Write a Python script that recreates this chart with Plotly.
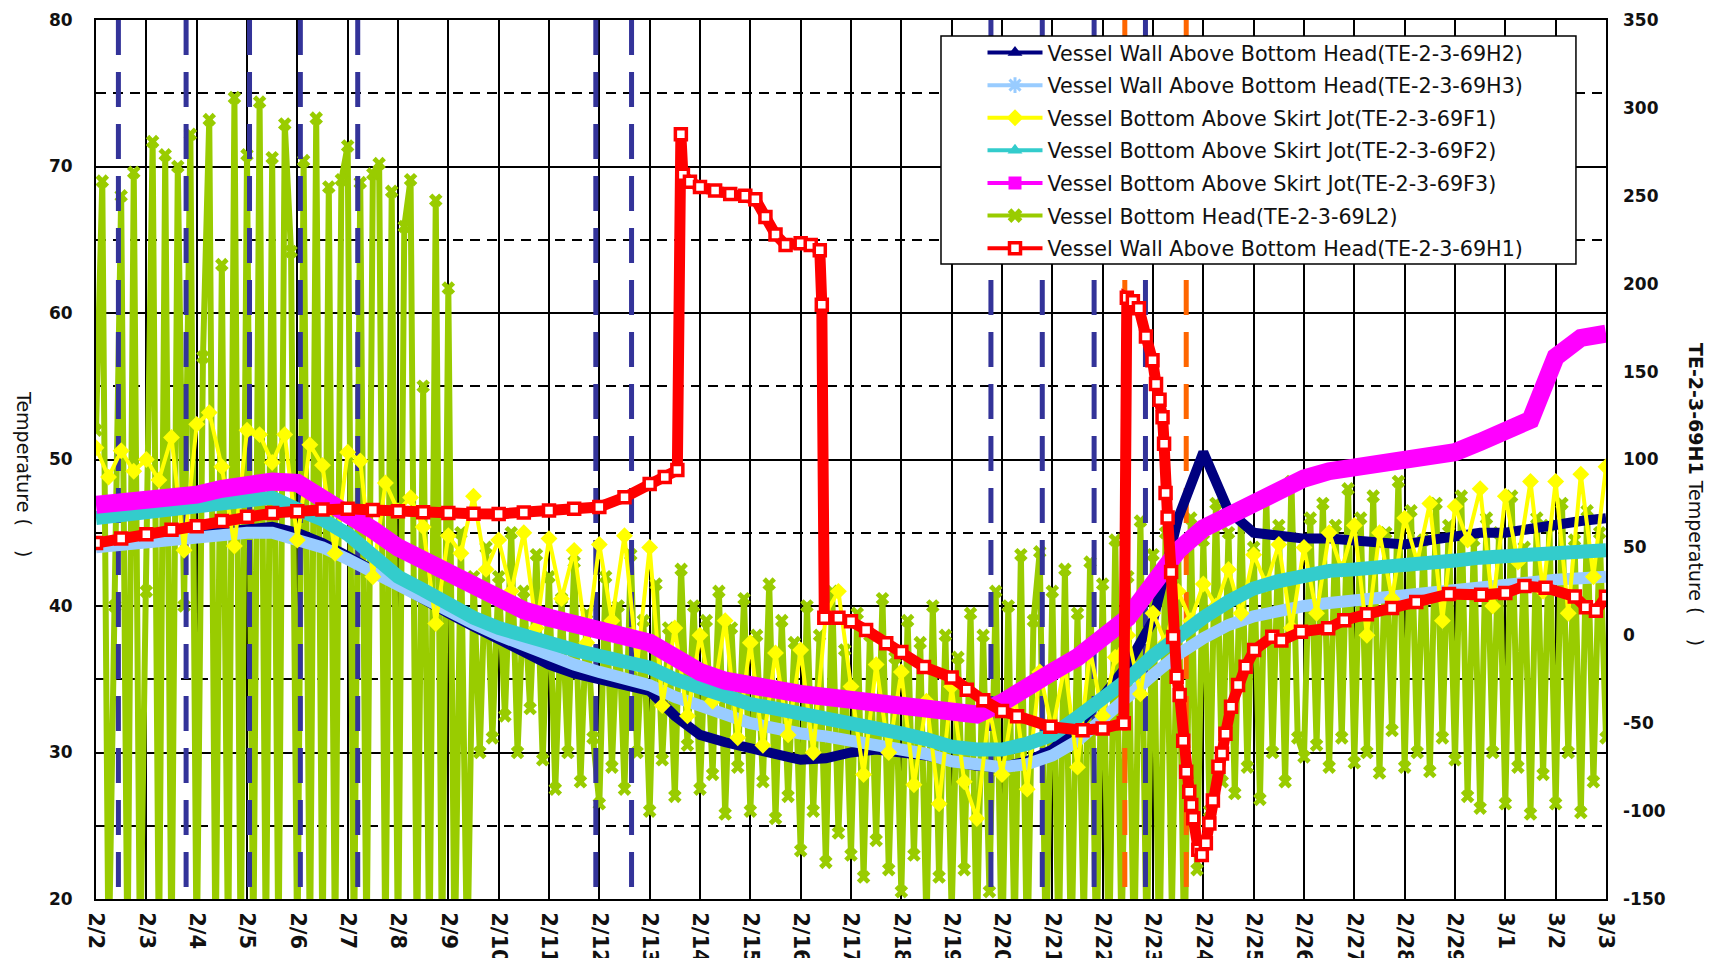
import plotly.graph_objects as go

# ---------------- data ----------------
DATE_LABELS = ["2/2", "2/3", "2/4", "2/5", "2/6", "2/7", "2/8", "2/9", "2/10", "2/11",
               "2/12", "2/13", "2/14", "2/15", "2/16", "2/17", "2/18", "2/19", "2/20",
               "2/21", "2/22", "2/23", "2/24", "2/25", "2/26", "2/27", "2/28", "2/29",
               "3/1", "3/2", "3/3"]

SERIES_NAMES = ["Vessel Wall Above Bottom Head(TE-2-3-69H2)",
                "Vessel Wall Above Bottom Head(TE-2-3-69H3)",
                "Vessel Bottom Above Skirt Jot(TE-2-3-69F1)",
                "Vessel Bottom Above Skirt Jot(TE-2-3-69F2)",
                "Vessel Bottom Above Skirt Jot(TE-2-3-69F3)",
                "Vessel Bottom Head(TE-2-3-69L2)",
                "Vessel Wall Above Bottom Head(TE-2-3-69H1)"]

LEFT_TICKS = [20, 30, 40, 50, 60, 70, 80]
RIGHT_TICKS = [-150, -100, -50, 0, 50, 100, 150, 200, 250, 300, 350]

# two readings per day (00:00, 12:00), one row per day from 2/2; last row = 3/3
H2_rows = [[44.3, 44.5], [44.7, 44.8], [44.9, 45.1], [45.3, 45.4], [45.0, 44.3],
           [43.4, 42.4], [41.4, 40.4], [39.5, 38.6], [37.7, 36.8], [36.0, 35.4],
           [35.0, 34.6], [34.2, 32.5], [31.2, 30.7], [30.3, 29.8], [29.5, 29.6],
           [30.0, 30.2], [30.0, 29.8], [29.4, 29.1], [29.0, 29.4], [30.2, 31.8],
           [33.8, 36.0], [39.0, 46.0], [50.5, 46.5], [45.0, 44.8], [44.6, 44.6],
           [44.5, 44.3], [44.2, 44.5], [44.8, 45.0], [45.0, 45.3], [45.5, 45.8],
           [46.0]]
H3_rows = [[44.0, 44.2], [44.4, 44.5], [44.6, 44.8], [45.0, 45.0], [44.6, 44.0],
           [43.2, 42.3], [41.3, 40.4], [39.6, 38.8], [38.0, 37.3], [36.6, 36.0],
           [35.5, 35.0], [34.6, 33.8], [33.1, 32.6], [32.0, 31.6], [31.3, 31.1],
           [30.8, 30.6], [30.3, 29.9], [29.4, 29.1], [29.0, 29.2], [29.8, 30.8],
           [32.2, 33.8], [35.3, 36.7], [37.8, 38.7], [39.3, 39.7], [40.0, 40.2],
           [40.4, 40.6], [40.7, 40.9], [41.0, 41.2], [41.4, 41.6], [41.8, 41.9],
           [42.0]]
F2_rows = [[46.0, 46.2], [46.4, 46.7], [47.0, 47.2], [47.4, 47.4], [46.6, 45.9],
           [44.9, 43.5], [42.0, 41.1], [40.1, 39.2], [38.5, 37.9], [37.5, 37.0],
           [36.6, 36.2], [35.8, 35.0], [34.4, 33.9], [33.3, 33.0], [32.7, 32.4],
           [32.0, 31.7], [31.3, 30.9], [30.4, 30.2], [30.2, 30.6], [31.2, 32.4],
           [33.6, 35.0], [36.6, 38.0], [39.2, 40.3], [41.2, 41.7], [42.1, 42.4],
           [42.5, 42.6], [42.8, 42.9], [43.1, 43.3], [43.4, 43.5], [43.6, 43.7],
           [43.8]]
F3_rows = [[46.9, 47.0], [47.2, 47.4], [47.6, 48.0], [48.3, 48.5], [48.4, 47.4],
           [46.3, 45.2], [44.0, 43.1], [42.2, 41.3], [40.4, 39.7], [39.2, 38.8],
           [38.5, 38.2], [37.5, 36.5], [35.5, 34.9], [34.5, 34.3], [34.0, 33.8],
           [33.6, 33.4], [33.3, 33.0], [32.7, 32.6], [33.4, 34.3], [35.5, 36.5],
           [37.8, 39.2], [41.5, 43.8], [45.3, 46.2], [47.0, 47.8], [48.7, 49.2],
           [49.4, 49.8], [50.1, 50.3], [50.5, 51.2], [51.9, 52.7], [57.0, 58.3],
           [58.6]]
# four readings per day (every 6 h)
F1_rows = [[50.8, 48.8, 50.6, 49.2], [50.0, 48.6, 51.5, 43.8], [52.4, 53.2, 49.5, 44.1],
           [52.0, 51.7, 49.8, 51.7], [44.5, 51.0, 49.6, 43.6], [50.5, 49.9, 42.0, 48.4],
           [46.5, 47.4, 45.4, 38.8], [44.8, 43.6, 47.5, 42.5], [44.5, 41.0, 45.0, 38.5],
           [44.6, 40.5, 43.8, 37.5], [44.2, 39.0, 44.8, 36.0], [44.0, 33.2, 38.5, 32.5],
           [38.0, 33.5, 39.0, 31.0], [37.5, 30.5, 36.8, 31.2], [37.0, 30.0, 39.5, 41.0],
           [34.5, 28.5, 36.0, 30.0], [35.5, 27.8, 33.5, 26.5], [34.5, 28.0, 25.5, 33.0],
           [28.5, 34.0, 27.5, 35.5], [31.5, 36.0, 29.0, 37.0], [32.5, 36.5, 38.0, 34.0],
           [39.5, 37.5, 41.0, 39.0], [41.5, 40.0, 42.5, 39.5], [43.5, 41.5, 44.2, 38.5],
           [44.0, 39.5, 45.0, 42.5], [45.5, 38.0, 45.0, 40.5], [46.0, 43.0, 47.0, 39.0],
           [46.8, 44.5, 48.0, 40.0], [47.5, 43.0, 48.5, 41.0], [48.5, 39.5, 49.0, 42.0],
           [49.5]]
# eight readings per day (every 3 h)
L2_rows = [[52, 69, 15, 40, 68, 15, 69.6, 15],
           [41, 71.7, 15, 70.8, 15, 70.0, 40, 72.2],
           [15, 57, 73.2, 15, 63.3, 15, 74.7, 15],
           [70.8, 15, 74.4, 15, 70.6, 15, 72.9, 64.2],
           [15, 70.4, 15, 73.3, 15, 68.6, 15, 69.1],
           [71.4, 15, 68.9, 15, 69.5, 70.2, 15, 68.3],
           [15, 65.9, 69.1, 15, 55, 15, 67.7, 15],
           [61.7, 15, 45, 15, 42, 30, 44, 31],
           [42, 32.5, 45, 30, 41, 33, 43.5, 29.5],
           [42, 27.5, 40.5, 30, 43, 28, 39.5, 31],
           [26.5, 42, 29, 40, 27.5, 43.5, 30, 39],
           [26, 41.5, 29.5, 38.5, 27, 42.5, 30.5, 40],
           [27.5, 39, 28.5, 41, 25.8, 38.5, 29, 40.5],
           [26, 38, 28, 41.5, 25.5, 39, 27, 37.5],
           [23.3, 40, 26, 38, 22.5, 41, 24.5, 37],
           [23, 39.5, 21.5, 38, 24, 40.5, 22, 36.5],
           [20.5, 39, 23, 37.5, 18, 40, 21.5, 38],
           [19, 36.5, 22, 39.5, 17, 38, 20.5, 41],
           [15, 40, 17, 43.5, 15, 39, 43.7, 15],
           [41, 16, 42.5, 15, 39.5, 18, 43, 15],
           [41.5, 15, 44.5, 17, 42, 15, 45.8, 16],
           [43.5, 15, 45, 19, 44, 15, 46, 22],
           [44.5, 26, 47, 28, 45, 27.2, 46.5, 29],
           [44, 26.8, 47.5, 30, 45.5, 28, 48.5, 31],
           [29.7, 46, 30.5, 47, 29, 45.5, 31, 48],
           [29.3, 46, 30, 47.5, 28.6, 45, 31.5, 48.5],
           [29, 46.5, 30, 44.5, 28.7, 47, 31, 45.5],
           [29.5, 47.5, 27, 44.5, 26.2, 46, 30, 45],
           [26.5, 47.5, 29, 44, 25.8, 46, 28.5, 45.5],
           [26.5, 47, 30, 44.5, 25.9, 46.5, 28, 45],
           [31]]

# H1 (right axis): day offset from 2/2 and value
H1_day = [0.0, 0.5, 1.0, 1.5, 2.0, 2.5, 3.0, 3.5, 4.0, 4.5, 5.0, 5.5, 6.0, 6.5, 7.0, 7.5,
          8.0, 8.5, 9.0, 9.5, 10.0, 10.5, 11.0, 11.3, 11.55, 11.62, 11.66, 11.8, 12.0,
          12.3, 12.6, 12.9, 13.1, 13.3, 13.5, 13.7, 14.0, 14.2, 14.38, 14.42, 14.47,
          14.75, 15.0, 15.3, 15.7, 16.0, 16.45, 17.0, 17.3, 17.63, 18.0, 18.3, 18.96,
          19.6, 20.0, 20.42, 20.48, 20.6, 20.72, 20.86, 20.99, 21.06, 21.13, 21.19,
          21.22, 21.25, 21.29, 21.36, 21.4, 21.47, 21.53, 21.6, 21.66, 21.72, 21.76,
          21.8, 21.9, 21.97, 22.05, 22.12, 22.19, 22.3, 22.37, 22.44, 22.55, 22.69,
          22.84, 23.01, 23.37, 23.55, 23.94, 24.48, 24.8, 25.25, 25.75, 26.23, 26.88,
          27.52, 28.0, 28.38, 28.8, 29.38, 29.6, 29.8, 30.0]
H1_val = [52.5, 55.0, 57.5, 60.0, 62.0, 65.0, 67.5, 69.5, 70.5, 71.5, 72.0, 71.3, 70.5,
          70.0, 69.5, 69.2, 69.0, 69.8, 71.0, 72.0, 73.0, 78.5, 86.0, 90.0, 94.0, 285.0,
          262.0, 258.0, 255.0, 253.0, 251.0, 250.0, 248.0, 238.0, 228.0, 222.0, 223.0,
          222.0, 219.0, 188.0, 10.0, 10.0, 8.0, 3.0, -4.5, -9.5, -18.0, -24.0, -31.0,
          -37.0, -43.0, -46.0, -52.0, -54.0, -53.0, -50.0, 192.0, 190.0, 186.0, 170.0,
          156.5, 143.0, 134.0, 124.0, 109.0, 81.0, 67.0, 36.0, -1.0, -23.6, -34.0,
          -60.0, -77.6, -89.0, -96.6, -104.0, -122.0, -125.0, -118.3, -107.0, -94.0,
          -74.8, -67.2, -56.0, -40.6, -28.3, -17.9, -8.4, -0.8, -3.0, 2.0, 4.0, 8.6,
          12.0, 15.5, 19.0, 23.5, 23.0, 24.0, 28.0, 27.0, 22.0, 16.0, 14.0, 21.9]

# event markers (day offset from 2/2)
BLUE_EVENTS = [0.445, 1.79, 3.05, 4.06, 5.2, 9.93, 10.64, 17.78, 18.8, 19.83, 20.85]
ORANGE_EVENTS = [20.44, 21.66]

LEFT_RANGE = [20, 80]
RIGHT_RANGE = [-150, 350]


def expand(rows):
    t, v = [], []
    for day, row in enumerate(rows):
        n = max(len(row), 1)
        for i, val in enumerate(row):
            t.append(day + i / n)
            v.append(val)
    return t, v


# ---------------- figure ----------------
fig = go.Figure()

C_H2, C_H3, C_F1, C_F2, C_F3, C_L2, C_H1 = ("#000080", "#99ccff", "#ffff00", "#33cccc",
                                            "#ff00ff", "#99cc00", "#ff0000")

# L2 at the bottom
t, v = expand(L2_rows)
fig.add_trace(go.Scatter(x=t, y=v, mode="lines+markers", line=dict(color=C_L2, width=6),
                         marker=dict(symbol="x", size=12, color=C_L2),
                         showlegend=False, hoverinfo="skip"))

# event lines
for days, col in ((BLUE_EVENTS, "#333399"), (ORANGE_EVENTS, "#ff6600")):
    ex, ey = [], []
    for d in days:
        ex += [d, d, None]
        ey += [LEFT_RANGE[1], LEFT_RANGE[0], None]
    fig.add_trace(go.Scatter(x=ex, y=ey, mode="lines",
                             line=dict(color=col, width=5, dash="35px,17px"),
                             showlegend=False, hoverinfo="skip"))

t, v = expand(H2_rows)
fig.add_trace(go.Scatter(x=t, y=v, mode="lines", line=dict(color=C_H2, width=10),
                         showlegend=False, hoverinfo="skip"))
t, v = expand(H3_rows)
fig.add_trace(go.Scatter(x=t, y=v, mode="lines", line=dict(color=C_H3, width=12),
                         showlegend=False, hoverinfo="skip"))
t, v = expand(F1_rows)
fig.add_trace(go.Scatter(x=t, y=v, mode="lines+markers", line=dict(color=C_F1, width=4),
                         marker=dict(symbol="diamond", size=13, color=C_F1),
                         showlegend=False, hoverinfo="skip"))
t, v = expand(F2_rows)
fig.add_trace(go.Scatter(x=t, y=v, mode="lines", line=dict(color=C_F2, width=14),
                         showlegend=False, hoverinfo="skip"))
t, v = expand(F3_rows)
fig.add_trace(go.Scatter(x=t, y=v, mode="lines", line=dict(color=C_F3, width=18),
                         showlegend=False, hoverinfo="skip"))

# H1 on the right axis
fig.add_trace(go.Scatter(x=H1_day, y=H1_val, yaxis="y2", mode="lines+markers",
                         line=dict(color=C_H1, width=11),
                         marker=dict(symbol="square", size=11, color="white",
                                     line=dict(color=C_H1, width=3.5)),
                         showlegend=False, hoverinfo="skip"))

# legend entries
legend_styles = [
    dict(color=C_H2, marker=dict(symbol="triangle-up", size=13, color=C_H2)),
    dict(color=C_H3, marker=dict(symbol="asterisk-open", size=13, color=C_H3,
                                 line=dict(color=C_H3, width=3))),
    dict(color=C_F1, marker=dict(symbol="diamond", size=13, color=C_F1)),
    dict(color=C_F2, marker=dict(symbol="triangle-up", size=13, color=C_F2)),
    dict(color=C_F3, marker=dict(symbol="square", size=13, color=C_F3)),
    dict(color=C_L2, marker=dict(symbol="x", size=13, color=C_L2)),
    dict(color=C_H1, marker=dict(symbol="square", size=11, color="white",
                                 line=dict(color=C_H1, width=3.5))),
]
for i, (name, st) in enumerate(zip(SERIES_NAMES, legend_styles)):
    fig.add_trace(go.Scatter(x=[None], y=[None], mode="lines+markers", name=name,
                             line=dict(color=st["color"], width=4), marker=st["marker"],
                             legendgroup="g%d" % i, yaxis="y2" if i == 6 else "y"))

FONT = "DejaVu Sans, Verdana, sans-serif"
TXT = "#111111"
axis_common = dict(showline=True, linecolor="black", linewidth=2, mirror=True,
                   zeroline=False, ticks="", automargin=False)

fig.update_layout(
    width=1715, height=958,
    margin=dict(l=96, r=109, t=20, b=59),
    paper_bgcolor="white", plot_bgcolor="white",
    font=dict(family=FONT, color=TXT, size=20),
    showlegend=True,
    legend=dict(x=0.5606, y=0.9857, xanchor="left", yanchor="top",
                bgcolor="rgba(0,0,0,0)", borderwidth=0,
                font=dict(family=FONT, size=20.7, color=TXT),
                tracegroupgap=2.7, itemwidth=55, indentation=40,
                traceorder="grouped"),
    # legend frame (white box with black border, covering the plot behind it)
    shapes=[dict(type="rect", xref="paper", yref="paper", x0=0.5596, x1=0.9801,
                 y0=0.7224, y1=0.9818, fillcolor="white",
                 line=dict(color="black", width=1.5), layer="above")],
    xaxis=dict(range=[0, 30], tickmode="array", tickvals=list(range(len(DATE_LABELS))),
               ticktext=DATE_LABELS, tickangle=90,
               tickfont=dict(family=FONT, size=21, weight="bold", color=TXT),
               showgrid=True, gridcolor="black", gridwidth=2, ticklabelstandoff=7,
               **axis_common),
    yaxis=dict(range=LEFT_RANGE, tickmode="array", tickvals=LEFT_TICKS,
               ticktext=[str(v) for v in LEFT_TICKS], showgrid=True, gridcolor="black",
               gridwidth=2, tickfont=dict(family=FONT, size=17, weight="bold", color=TXT),
               ticklabelstandoff=18,
               minor=dict(dtick=5, tick0=25, showgrid=True, gridcolor="black",
                          gridwidth=2, griddash="10px,7px"),
               **axis_common),
    yaxis2=dict(range=RIGHT_RANGE, tickmode="array", tickvals=RIGHT_TICKS,
                ticktext=[str(v) for v in RIGHT_TICKS], overlaying="y", side="right",
                showgrid=False, zeroline=False, ticks="", automargin=False,
                tickfont=dict(family=FONT, size=17, weight="bold", color=TXT),
                ticklabelstandoff=16, showline=False),
    annotations=[
        dict(text="Temperature (\u00a0\u00a0\u00a0\u00a0)", xref="paper", yref="paper",
             x=-0.0477, y=0.4835, xanchor="center", yanchor="middle", textangle=90,
             showarrow=False, font=dict(family=FONT, size=19, color=TXT)),
        dict(text="<b>TE-2-3-69H1</b> Temperature (\u00a0\u00a0\u00a0\u00a0)",
             xref="paper", yref="paper", x=1.0596, y=0.4596, xanchor="center",
             yanchor="middle", textangle=90, showarrow=False,
             font=dict(family=FONT, size=19, color=TXT)),
    ],
)

fig.write_html("out.html", config={"displayModeBar": False},
               post_script="document.body.style.margin='0px';")
